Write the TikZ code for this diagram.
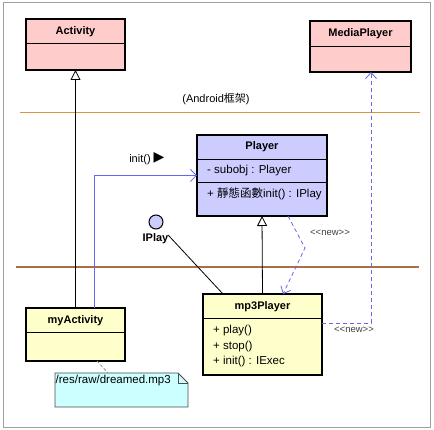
\documentclass[tikz,border=0pt]{standalone}
\usepackage{fontspec}
\setmainfont{Liberation Sans}
\newfontfamily\cjk{Noto Sans CJK TC}
\newfontfamily\symfont{DejaVu Sans}
\usetikzlibrary{arrows.meta,calc}
\definecolor{pinkfill}{HTML}{FFCCCC}
\definecolor{lavfill}{HTML}{CCCCFF}
\definecolor{yelfill}{HTML}{FFFFCC}
\definecolor{cyanfill}{HTML}{CCFFFF}
\definecolor{umlblue}{HTML}{6666EE}
\definecolor{orangeline}{HTML}{D8983C}
\definecolor{brownline}{HTML}{A87048}
\definecolor{framegray}{HTML}{A0A0A0}
\tikzset{
  umlbox/.style={draw=black, line width=1.4pt, anchor=north west, inner sep=0pt, outer sep=0pt},
  titletext/.style={font=\fontsize{11}{13}\selectfont\bfseries, inner sep=0pt},
  bodytext/.style={font=\fontsize{11.5}{13}\selectfont, inner sep=0pt, anchor=west},
  stereo/.style={font=\fontsize{9.5}{11}\selectfont, text=black!75, inner sep=0pt},
  divider/.style={line width=0.8pt},
  genline/.style={line width=0.8pt, -{Triangle[open,length=10pt,width=10pt]}},
  assoc/.style={line width=0.8pt, draw=umlblue, -{Straight Barb[length=6pt,width=12pt]}},
  depend/.style={line width=0.8pt, draw=umlblue, dash pattern=on 4pt off 3pt, -{Straight Barb[length=6pt,width=11pt]}},
}
\begin{document}
\begin{tikzpicture}[x=1pt,y=-1pt]
\useasboundingbox (0,0) rectangle (434,430);
\draw[framegray, line width=1pt] (3,3) rectangle (430,427);

% layer lines
\draw[orangeline, line width=1.6pt] (20,112.5) -- (420,112.5);
\draw[brownline, line width=1.6pt] (16,267) -- (419,267);
\node[font=\fontsize{11}{13}\selectfont, inner sep=0pt] (fw) at (216,99) {(Android{\cjk 框架})};

% Activity
\node[umlbox, fill=pinkfill, minimum width=99pt, minimum height=51pt] (act) at (26,19) {};
\draw[divider] (26,43) -- (125,43);
\node[titletext] (acttitle) at (75.5,32) {Activity};

% MediaPlayer
\node[umlbox, fill=pinkfill, minimum width=101pt, minimum height=51pt] (mp) at (310,21) {};
\draw[divider] (310,46) -- (411,46);
\node[titletext] (mptitle) at (360.5,34) {MediaPlayer};

% Player
\node[umlbox, fill=lavfill, minimum width=130pt, minimum height=81pt] (pl) at (197,135) {};
\draw[divider] (197,159) -- (327,159);
\draw[divider] (197,182) -- (327,182);
\node[titletext] (pltitle) at (262,147) {Player};
\node[bodytext] (plattr) at (207,171) {- subobj : Player};
\node[bodytext] (plop) at (207,194) {+ {\cjk 靜態函數}init() : IPlay};

% mp3Player
\node[umlbox, fill=yelfill, minimum width=119pt, minimum height=81pt] (mp3) at (203,294) {};
\draw[divider] (203,318) -- (322,318);
\node[titletext] (mp3title) at (262.5,307) {mp3Player};
\node[bodytext] (op1) at (213,331) {+ play()};
\node[bodytext] (op2) at (213,346.5) {+ stop()};
\node[bodytext] (op3) at (213,362) {+ init() : IExec};

% myActivity
\node[umlbox, fill=yelfill, minimum width=99pt, minimum height=53pt] (myact) at (26,308) {};
\draw[divider] (26,332) -- (125,332);
\node[titletext] (myacttitle) at (75.5,321) {myActivity};

% note
\coordinate (nA) at (55,373);
\draw[fill=cyanfill, draw=black!70, line width=0.8pt] (55,373) -- (178,373) -- (188,383) -- (188,407) -- (55,407) -- cycle;
\draw[draw=black!70, line width=0.8pt] (178,373) -- (178,383) -- (188,383);
\node[bodytext] (note) at (55.5,381) {/res/raw/dreamed.mp3};
\draw[black!45, dash pattern=on 3pt off 2pt, line width=0.8pt] ($(myact.south west)+(71,0)$) -- ($(nA)+(53,0)$);

% IPlay interface
\node[circle, draw=black, fill=lavfill, line width=1pt, minimum size=14pt, inner sep=0pt] (iplay) at (156,222) {};
\node[titletext] (iplaylabel) at (155.5,239) {IPlay};
\coordinate (mp3top) at ($(mp3.north west)+(20,0)$);
\draw[line width=0.8pt] ($(iplay)!0.18!(mp3top)$) -- (mp3top);

% generalizations
\draw[genline] (myact.north -| act.south) -- (act.south);
\draw[genline] (mp3.north) -- (pl.south);

% association init()
\coordinate (blueStart) at ($(myact.north west)+(68,0)$);
\draw[assoc] (blueStart) |- (pl.west);
\node[font=\fontsize{11}{13}\selectfont, inner sep=0pt] (initlbl) at (140,159.5) {init()};
\node[font=\fontsize{14}{15}\selectfont\symfont, inner sep=0pt] (initarrow) at (159,158) {▶};

% <<new>> Player -> mp3Player
\coordinate (d1s) at ($(pl.south west)+(91,0)$);
\coordinate (d1m) at (305,248);
\coordinate (d1e) at ($(mp3.north west)+(80,0)$);
\draw[depend] (d1s) -- (d1m) -- (d1e);
\node[stereo] (new1) at (330,233) {<{}<new>{}>};

% <<new>> mp3Player -> MediaPlayer
\coordinate (d2s) at ($(mp3.north east)+(0,29)$);
\coordinate (d2c) at (371,323);
\draw[depend] (d2s) -- (d2c) -- (d2c |- mp.south);
\node[stereo] (new2) at (354,330) {<{}<new>{}>};
\end{tikzpicture}
\end{document}
